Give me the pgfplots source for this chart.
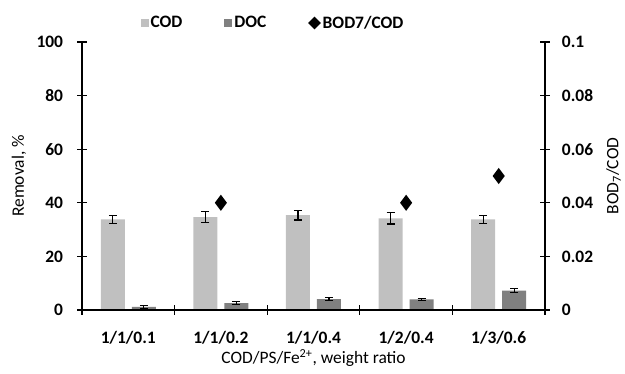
\documentclass[border=0pt]{standalone}
\usepackage{fontspec}
\setmainfont{Carlito}
\usepackage{pgfplots}
\pgfplotsset{compat=1.18}
\definecolor{codgray}{HTML}{C0C0C0}
\definecolor{docgray}{HTML}{808080}
\newcommand{\tickfont}{\fontsize{17.5}{20}\selectfont\bfseries}
\newcommand{\labfont}{\fontsize{17.5}{20}\selectfont}
\begin{document}
\begin{tikzpicture}
\useasboundingbox (0,0) rectangle (625bp,374bp);
\pgfplotsset{
  every axis/.append style={
    scale only axis, width=463bp, height=268bp,
    at={(82bp,64bp)}, anchor=south west,
    xmin=-0.5, xmax=4.5,
    line width=1.3bp,
    /pgf/number format/assume math mode=true,
    ticklabel style={font=\tickfont},
  },
}
\begin{axis}[
  axis x line*=bottom, axis y line*=left,
  ymin=0, ymax=100, ytick={0,20,...,100},
  xtick={0,1,2,3,4},
  xticklabels={1/1/0.1,1/1/0.2,1/1/0.4,1/2/0.4,1/3/0.6},
  xtick style={draw=none},
  ytick align=center,
  ytick style={black, line width=1.3bp},
  major tick length=10bp,
  xticklabel style={yshift=-7bp},
  yticklabel style={xshift=-10bp},
  ylabel={Removal, \%},
  xlabel={COD/PS/Fe\textsuperscript{2+}, weight ratio},
  every axis y label/.style={at={(axis description cs:-0.136,0.5)},rotate=90,anchor=center,font=\labfont},
  every axis x label/.style={at={(axis description cs:0.5,-0.18)},anchor=center,font=\labfont},
  ybar, bar width=24bp,
  legend style={draw=none, fill=none, at={(axis description cs:0.4125,1.071)}, anchor=center,
    font=\labfont\bfseries, legend columns=3,
    /tikz/every even column/.append style={column sep=40bp}},
  legend cell align=left,
  legend image code/.code={\fill[#1] (0bp,-4bp) rectangle (8bp,4bp);},
]
\addplot[fill=codgray, draw=none, bar shift=-15.5bp,
  error bars/.cd, y dir=both, y explicit,
  error bar style={black, line width=1.1bp},
  error mark options={rotate=90, mark size=4bp, line width=1.1bp, black}]
  coordinates {(0,33.8) +- (0,1.6) (1,34.7) +- (0,2.0) (2,35.4) +- (0,1.8) (3,34.2) +- (0,2.1) (4,33.8) +- (0,1.5)};
\addlegendentry{COD}
\addplot[fill=docgray, draw=none, bar shift=15.5bp,
  error bars/.cd, y dir=both, y explicit,
  error bar style={black, line width=1.1bp},
  error mark options={rotate=90, mark size=4bp, line width=1.1bp, black}]
  coordinates {(0,1.2) +- (0,0.5) (1,2.6) +- (0,0.5) (2,4.1) +- (0,0.6) (3,4.0) +- (0,0.4) (4,7.2) +- (0,0.8)};
\addlegendentry{DOC}
\addlegendimage{legend image code/.code={\fill[black] (4bp,0bp) -- (9.5bp,5.5bp) -- (15bp,0bp) -- (9.5bp,-5.5bp) -- cycle;}}
\addlegendentry{BOD7/COD}
\end{axis}
\begin{axis}[
  axis x line*=bottom,
  axis y line*=right,
  xtick={-0.5,0.5,1.5,2.5,3.5,4.5},
  xticklabels={},
  tick align=center,
  major tick length=10bp,
  tick style={black, line width=1.3bp},
  ymin=0, ymax=0.1, ytick={0,0.02,0.04,0.06,0.08,0.1},
  yticklabels={0,0.02,0.04,0.06,0.08,0.1},
  yticklabel style={xshift=8bp},
  ylabel={BOD\textsubscript{7}/COD},
  every axis y label/.style={at={(axis description cs:1.148,0.5)},rotate=90,anchor=center,font=\labfont},
]
\addplot[only marks, mark=diamond*, mark size=7bp, black]
  coordinates {(1,0.04) (3,0.04) (4,0.05)};
\end{axis}
\end{tikzpicture}
\end{document}
